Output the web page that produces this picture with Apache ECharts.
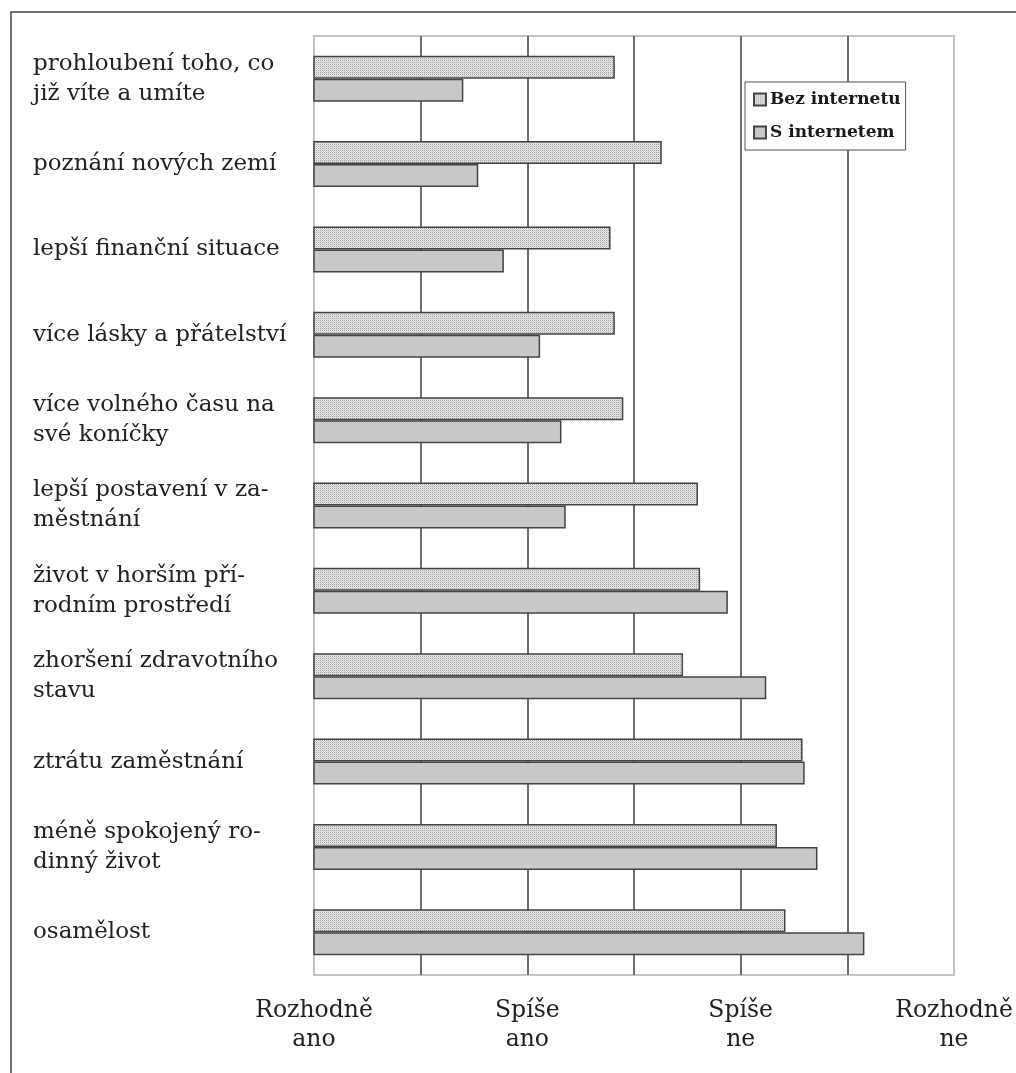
<!DOCTYPE html>
<html>
<head>
<meta charset="utf-8">
<script src="https://cdn.jsdelivr.net/npm/echarts@6/dist/echarts.min.js"></script>
<style>
html,body{margin:0;padding:0;background:#fff;}
#chart{width:1016px;height:1073px;}
</style>
</head>
<body>
<div id="chart"></div>
<script>
var categories = [
  "prohloubení toho, co\njiž víte a umíte",
  "poznání nových zemí",
  "lepší finanční situace",
  "více lásky a přátelství",
  "více volného času na\nsvé koníčky",
  "lepší postavení v za-\nměstnání",
  "život v horším pří-\nrodním prostředí",
  "zhoršení zdravotního\nstavu",
  "ztrátu zaměstnání",
  "méně spokojený ro-\ndinný život",
  "osamělost"
];
var bezInternetu = [2.41, 2.63, 2.39, 2.41, 2.45, 2.80, 2.81, 2.73, 3.29, 3.17, 3.21];
var sInternetem = [1.70, 1.77, 1.89, 2.06, 2.16, 2.18, 2.94, 3.12, 3.30, 3.36, 3.58];
var tickLabels = ["Rozhodně\nano", "Spíše\nano", "Spíše\nne", "Rozhodně\nne"];
var seriesNames = ["Bez internetu", "S internetem"];

// stipple pattern
var pc = document.createElement('canvas');
pc.width = 2; pc.height = 2;
var pctx = pc.getContext('2d');
pctx.fillStyle = '#e8e8e8'; pctx.fillRect(0,0,2,2);
pctx.fillStyle = '#a0a0a0'; pctx.fillRect(0,0,1,1);
pctx.fillStyle = '#d2d2d2'; pctx.fillRect(1,1,1,1);

var FONT = "'DejaVu Serif', 'Liberation Serif', serif";
var chart = echarts.init(document.getElementById('chart'), null, {renderer: 'canvas'});
chart.setOption({
  backgroundColor: '#fff',
  animation: false,
  graphic: [{
    type: 'polyline',
    shape: {points: [[11, 1073], [11, 12], [1016, 12]]},
    style: {stroke: '#444', lineWidth: 1.5, fill: null}
  }],
  grid: {
    left: 314, top: 36, right: 62, bottom: 98,
    show: true, borderColor: '#c4c4c4', borderWidth: 2, backgroundColor: 'transparent'
  },
  legend: {
    orient: 'vertical',
    left: 745, top: 82,
    padding: [9, 5, 9, 8],
    itemGap: 16,
    itemWidth: 12, itemHeight: 12,
    icon: 'rect',
    backgroundColor: '#fff',
    borderColor: '#555', borderWidth: 1,
    data: seriesNames,
    textStyle: {fontFamily: FONT, fontWeight: 'bold', fontSize: 17, color: '#1a1a1a', padding: [0,0,0,-1]}
  },
  xAxis: {
    type: 'value', min: 1, max: 4, interval: 0.5,
    axisLine: {show: false}, axisTick: {show: false},
    splitLine: {show: true, showMinLine: false, showMaxLine: false, lineStyle: {color: '#6e6e6e', width: 2}},
    axisLabel: {
      margin: 21,
      fontFamily: FONT, fontSize: 23.5, lineHeight: 29, color: '#222',
      formatter: function (v) {
        var i = Math.round(v) - 1;
        return (Math.abs(v - Math.round(v)) < 1e-6 && tickLabels[i]) ? tickLabels[i] : '';
      }
    }
  },
  yAxis: {
    type: 'category', inverse: true, data: categories,
    axisLine: {show: false}, axisTick: {show: false},
    splitLine: {show: false},
    axisLabel: {
      align: 'left', margin: 281,
      fontFamily: FONT, fontSize: 23, lineHeight: 30, color: '#222'
    }
  },
  series: [{
    name: seriesNames[0], type: 'bar', data: bezInternetu,
    barWidth: 23, barGap: '0%',
    itemStyle: {color: {image: pc, repeat: 'repeat'}, borderColor: '#444', borderWidth: 1.5}
  }, {
    name: seriesNames[1], type: 'bar', data: sInternetem,
    barWidth: 23, barGap: '0%',
    itemStyle: {color: '#c8c8c8', borderColor: '#444', borderWidth: 1.5}
  }]
});
</script>
</body>
</html>
